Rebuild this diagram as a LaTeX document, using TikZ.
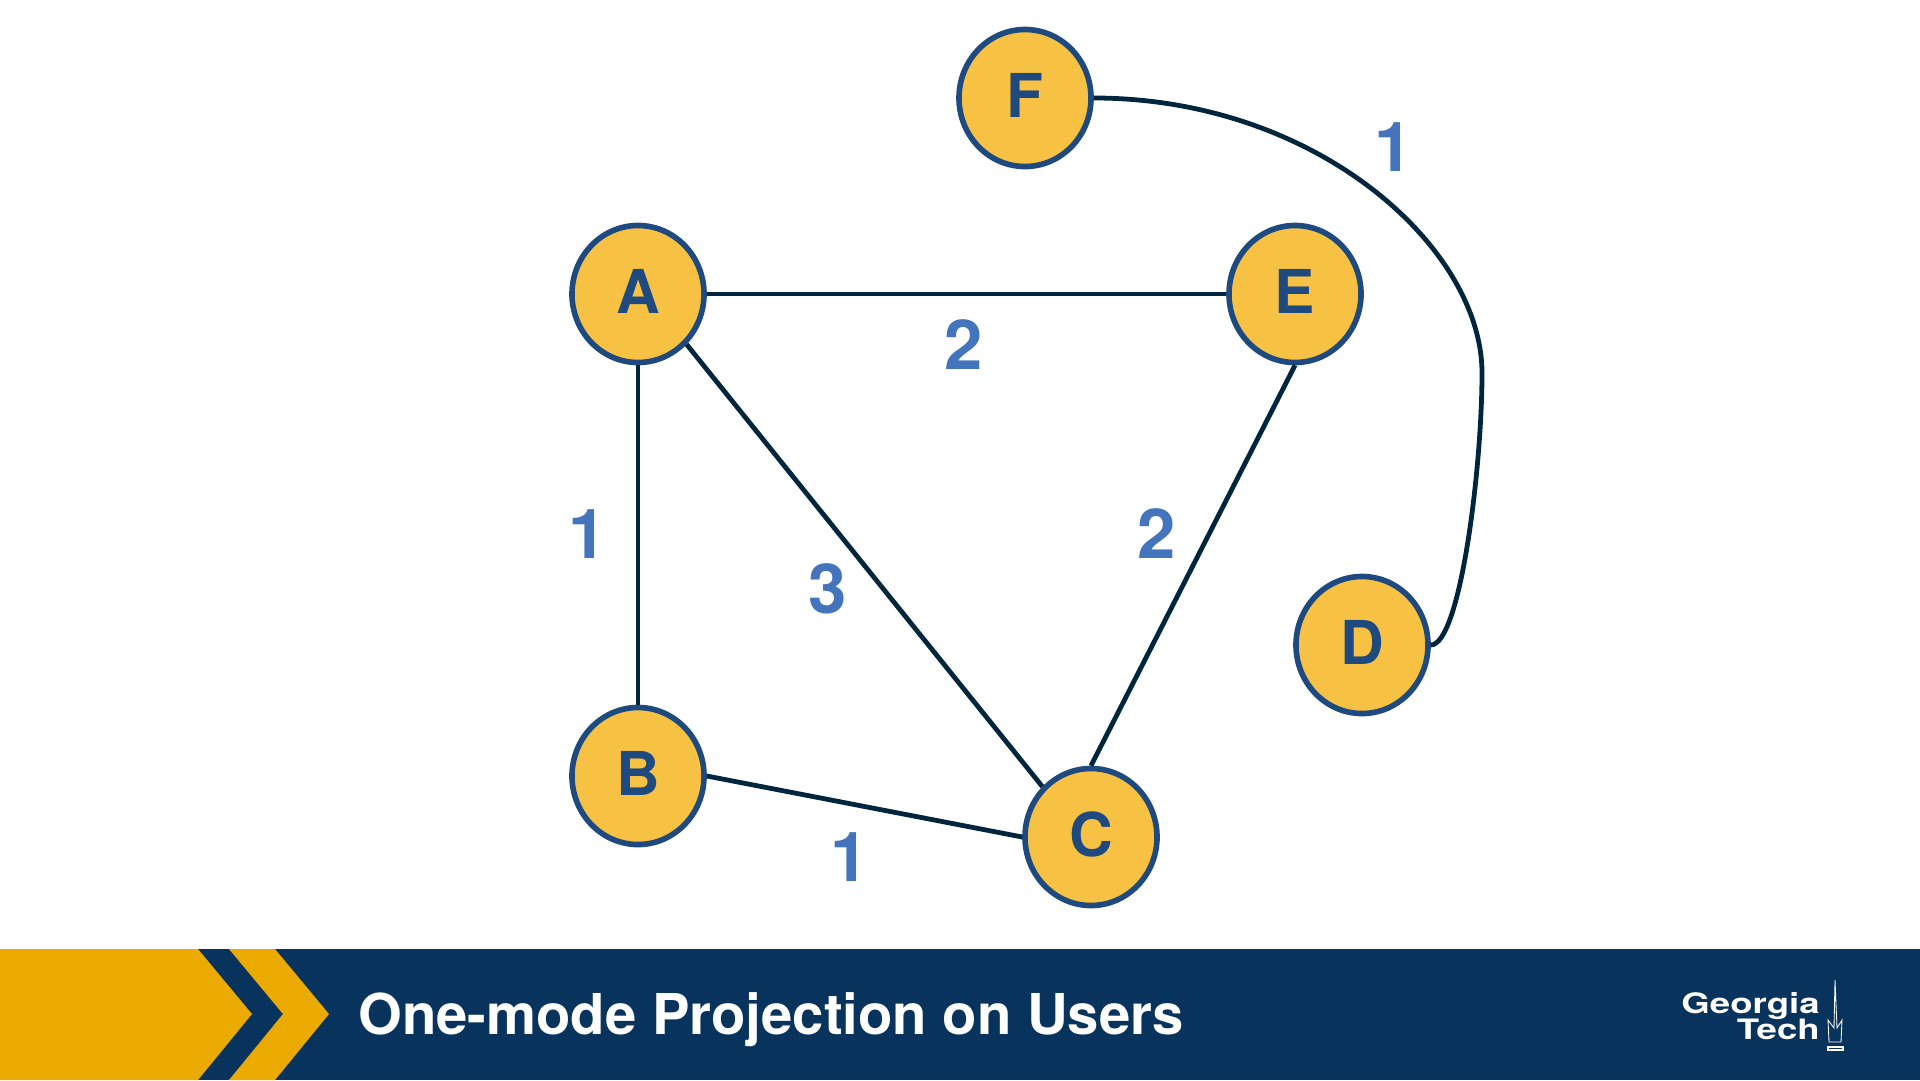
\documentclass[tikz,border=0pt]{standalone}
\usepackage{fontspec}
\setmainfont{TeX Gyre Heros}
\usetikzlibrary{shapes.geometric}
\definecolor{gtgold}{HTML}{EAAA00}
\definecolor{gtnavy}{HTML}{08335C}
\definecolor{nodefill}{HTML}{F7C244}
\definecolor{nodeline}{HTML}{1F4A80}
\definecolor{edgeline}{HTML}{00263E}
\definecolor{weightblue}{HTML}{4474BC}
\tikzset{
    user/.style={ellipse, draw=nodeline, fill=nodefill, line width=4pt, minimum width=3.3cm, minimum height=3.425cm, inner sep=0pt, text=nodeline, text depth=4pt, font=\fontsize{43}{43}\selectfont\bfseries},
    edge/.style={draw=edgeline, line width=3.4pt},
    weight/.style={text=weightblue, inner sep=0pt, font=\fontsize{49}{49}\selectfont\bfseries},
    logotext/.style={anchor=base east, inner sep=0pt, text=white, xscale=1.3, font=\fontsize{20}{20}\selectfont\bfseries},
}
\begin{document}
\begin{tikzpicture}[x=0.025cm, y=-0.025cm]
    \useasboundingbox (0, 0) rectangle (1920, 1080);

    % footer band
    \fill[gtnavy] (0, 949) rectangle (1920, 1080);
    \fill[gtgold] (0, 949) -- (198, 949) -- (252, 1014) -- (198, 1080) -- (0, 1080) -- cycle;
    \fill[gtgold] (229, 949) -- (275, 949) -- (329, 1014) -- (275, 1080) -- (229, 1080) -- (283, 1014) -- cycle;
    \node[anchor=base west, inner sep=0pt, text=white, font=\fontsize{40}{40}\selectfont\bfseries] (title) at (358, 1034) {One-mode Projection on Users};

    % logo
    \node[logotext] (georgia) at (1820, 1013) {Georgia};
    \node[logotext] (tech) at (1820, 1039) {Tech};
    \draw[white, line width=0.6pt] (1828, 1020) -- (1834, 1028) -- (1835, 980) -- (1837, 1028) -- (1842, 1020) -- (1841, 1042) -- (1829, 1042) -- cycle;
    \draw[white, line width=0.8pt] (1828, 1047) rectangle (1843, 1050);

    \node[user] (A) at (638, 294) {A};
    \node[user] (B) at (638, 776) {B};
    \node[user] (C) at (1091, 837) {C};
    \node[user] (D) at (1362, 645) {D};
    \node[user] (E) at (1295, 294) {E};
    \node[user] (F) at (1025, 98) {F};
    \coordinate (bend) at (1482, 373);

    \draw[edge] (A.east) -- (E.west);
    \draw[edge] (A.south) -- (B.north);
    \draw[edge] (A.south east) -- (C.north west);
    \draw[edge] (B.east) -- (C.west);
    \draw[edge] (E.south) -- (C.north);
    \draw[edge] (F.east) .. controls (1317, 98) and (1482, 248) .. (bend) .. controls (1482, 469) and (1460, 645) .. (D.east);

    \node[weight] (wAE) at (964, 345) {2};
    \node[weight] (wAB) at (588, 534) {1};
    \node[weight] (wAC) at (828, 589) {3};
    \node[weight] (wEC) at (1157, 534) {2};
    \node[weight] (wBC) at (850, 857) {1};
    \node[weight] (wFD) at (1394, 147) {1};
\end{tikzpicture}
\end{document}
